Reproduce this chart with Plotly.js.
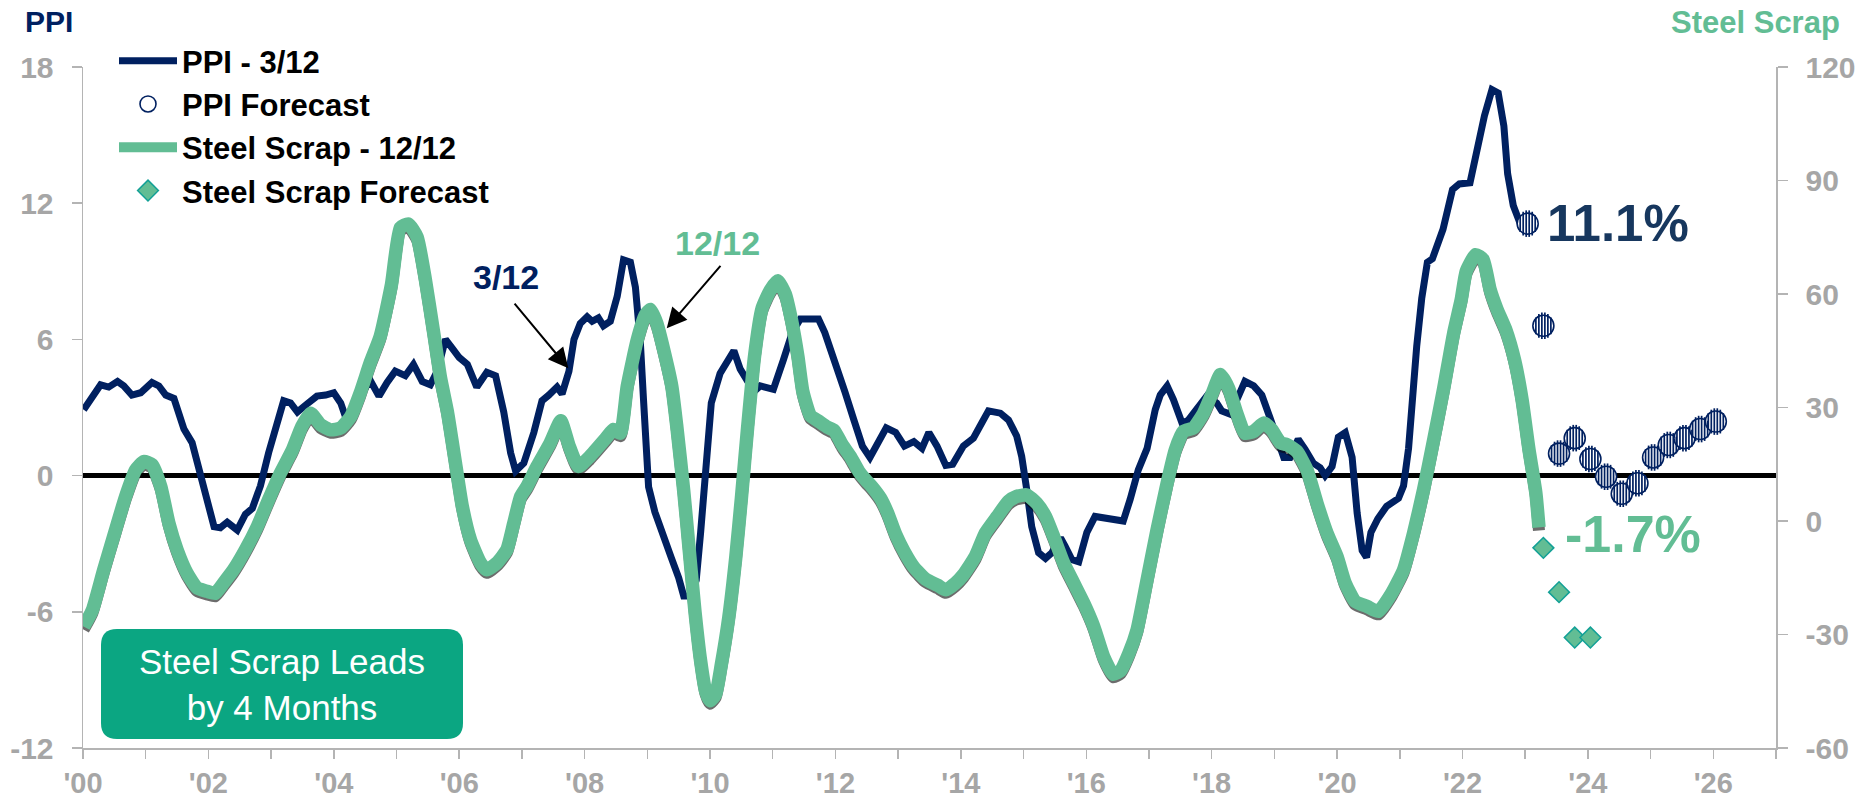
<!DOCTYPE html>
<html><head><meta charset="utf-8">
<script src="https://cdn.plot.ly/plotly-3.0.1.min.js"></script>
<style>html,body{margin:0;padding:0;background:#fff;}#chart{width:1861px;height:801px;}</style>
</head><body><div id="chart"></div>
<script>
// ---------------- DATA ----------------
const ppiDates = [2000.01,2000.12,2000.28,2000.41,2000.55,2000.65,2000.78,2000.92,2001.10,2001.21,
2001.32,2001.45,2001.61,2001.74,2001.87,2001.98,2002.09,2002.19,2002.30,2002.46,
2002.59,2002.70,2002.83,2002.96,2003.07,2003.20,2003.31,2003.42,2003.57,2003.73,
2003.87,2004.00,2004.11,2004.21,2004.32,2004.45,2004.58,2004.72,2004.85,2004.98,
2005.14,2005.27,2005.41,2005.54,2005.65,2005.78,2005.89,2006.00,2006.13,2006.28,
2006.44,2006.58,2006.71,2006.82,2006.90,2007.03,2007.19,2007.32,2007.43,2007.56,
2007.64,2007.75,2007.83,2007.93,2008.04,2008.12,2008.22,2008.30,2008.41,2008.52,
2008.62,2008.73,2008.81,2008.89,2008.94,2009.02,2009.12,2009.25,2009.38,2009.50,
2009.58,2009.70,2009.78,2009.85,2009.93,2010.02,2010.16,2010.38,2010.48,2010.59,
2010.70,2010.80,2011.01,2011.17,2011.31,2011.44,2011.58,2011.73,2011.83,2011.92,
2012.02,2012.15,2012.30,2012.43,2012.55,2012.68,2012.81,2012.96,2013.10,2013.25,
2013.38,2013.49,2013.62,2013.76,2013.87,2014.04,2014.20,2014.30,2014.44,2014.63,
2014.76,2014.89,2014.97,2015.05,2015.13,2015.24,2015.35,2015.45,2015.59,2015.66,
2015.77,2015.88,2016.01,2016.14,2016.28,2016.43,2016.59,2016.70,2016.83,2016.97,
2017.10,2017.18,2017.29,2017.39,2017.53,2017.63,2017.76,2017.92,2018.08,2018.16,
2018.30,2018.43,2018.53,2018.67,2018.80,2018.93,2019.07,2019.15,2019.25,2019.38,
2019.49,2019.62,2019.73,2019.81,2019.92,2020.02,2020.13,2020.24,2020.32,2020.40,
2020.47,2020.54,2020.65,2020.79,2020.98,2021.06,2021.14,2021.20,2021.27,2021.35,
2021.44,2021.52,2021.69,2021.84,2021.95,2022.12,2022.21,2022.35,2022.47,2022.57,
2022.66,2022.72,2022.81,2022.92];
const ppiValues = [2.9,3.3,4.0,3.9,4.15,3.95,3.55,3.65,4.1,3.95,
3.55,3.4,2.05,1.45,0.1,-1.2,-2.25,-2.3,-2.05,-2.4,
-1.7,-1.45,-0.45,1.0,2.0,3.3,3.2,2.8,3.15,3.5,
3.55,3.65,3.2,2.4,2.75,3.65,4.2,3.5,4.1,4.6,
4.4,4.9,4.15,4.0,4.6,6.0,5.6,5.2,4.9,3.9,
4.55,4.4,2.8,1.0,0.2,0.55,1.9,3.3,3.55,3.9,
3.6,4.6,6.0,6.7,7.0,6.8,6.95,6.6,6.8,7.9,
9.5,9.4,8.3,5.8,3.3,-0.5,-1.6,-2.5,-3.6,-4.5,
-5.3,-5.3,-4.6,-2.5,0.0,3.2,4.5,5.5,4.7,4.2,
3.7,3.95,3.8,5.1,6.3,6.9,6.9,6.9,6.3,5.5,
4.7,3.7,2.4,1.3,0.8,1.5,2.1,1.9,1.3,1.5,
1.2,1.9,1.3,0.45,0.5,1.3,1.65,2.15,2.85,2.75,
2.45,1.75,0.85,-0.6,-2.25,-3.4,-3.65,-3.4,-2.75,-3.1,
-3.7,-3.8,-2.5,-1.8,-1.85,-1.95,-2.0,-1.05,0.25,1.2,
2.9,3.55,3.95,3.35,2.3,2.45,2.9,3.5,3.2,2.85,
2.7,3.45,4.15,3.95,3.55,2.55,1.5,0.8,0.8,1.6,
1.15,0.55,0.35,0.0,0.4,1.7,1.9,0.8,-1.65,-3.3,
-3.6,-2.5,-1.9,-1.35,-1.0,-0.45,1.2,3.5,5.7,7.8,
9.4,9.55,10.85,12.6,12.85,12.9,14.2,15.85,17.0,16.85,
15.4,13.3,11.9,11.1];

const scrapDates = [2000.01,2000.15,2000.33,2000.52,2000.68,2000.84,2000.97,2001.10,2001.24,2001.37,
2001.50,2001.66,2001.82,2001.98,2002.11,2002.24,2002.40,2002.59,2002.78,2002.96,
2003.15,2003.34,2003.49,2003.63,2003.79,2003.95,2004.11,2004.27,2004.42,2004.58,
2004.74,2004.92,2005.06,2005.19,2005.33,2005.46,2005.59,2005.70,2005.81,2005.94,
2006.05,2006.18,2006.34,2006.44,2006.60,2006.76,2006.87,2006.98,2007.08,2007.24,
2007.45,2007.62,2007.75,2007.90,2008.08,2008.33,2008.46,2008.57,2008.68,2008.84,
2008.97,2009.05,2009.15,2009.26,2009.39,2009.47,2009.58,2009.67,2009.76,2009.85,
2009.93,2010.00,2010.09,2010.18,2010.30,2010.41,2010.50,2010.60,2010.71,2010.83,
2010.96,2011.08,2011.20,2011.30,2011.40,2011.48,2011.60,2011.73,2011.87,2011.98,
2012.11,2012.24,2012.38,2012.49,2012.58,2012.72,2012.83,2012.96,2013.10,2013.25,
2013.44,2013.63,2013.76,2013.91,2014.04,2014.23,2014.39,2014.58,2014.76,2014.89,
2015.05,2015.21,2015.35,2015.48,2015.64,2015.80,2015.96,2016.12,2016.28,2016.43,
2016.55,2016.68,2016.81,2016.97,2017.13,2017.29,2017.42,2017.55,2017.71,2017.87,
2018.01,2018.14,2018.27,2018.40,2018.53,2018.67,2018.83,2018.96,2019.10,2019.20,
2019.36,2019.52,2019.68,2019.84,2020.00,2020.13,2020.29,2020.48,2020.66,2020.87,
2021.06,2021.22,2021.38,2021.54,2021.70,2021.86,2021.98,2022.06,2022.21,2022.33,
2022.44,2022.55,2022.69,2022.83,2022.95,2023.06,2023.17,2023.22];
const scrapValues = [-27.9,-23.5,-12.9,-2.3,6.5,13.5,15.7,14.9,9.1,-0.6,
-7.6,-13.8,-17.7,-18.6,-19.1,-16.4,-12.9,-7.6,-1.45,5.6,
12.7,18.8,25,28.5,25.4,24.1,24.6,27.6,33.8,41.8,
48.8,62.5,77.5,78.5,75,63.8,50,38,29,15.3,
3.8,-5,-11.1,-12.9,-11.1,-7.6,-0.6,6.5,9.1,14.4,
20.6,26.5,20,14.4,17,21.7,24.2,23.2,35.6,47.9,
54.5,55.9,52.3,45.3,35.6,25,8,-8,-24,-37,
-45,-47.5,-45.8,-38,-25.4,-9.7,6,24.8,43.6,56.2,
61,63.5,60,53,43.6,34.2,27.9,26.4,24.8,23.9,
20.1,17,12.9,10.7,9.1,6,2.2,-3.5,-8.2,-12.2,
-15.4,-17,-18.2,-16.5,-14.2,-9.4,-3.2,1.2,5.2,6.5,
6.9,4.7,1.2,-4.1,-11.1,-16.4,-21.7,-27.9,-36,-40.5,
-39.5,-35,-28.8,-15.6,-2.3,10,18.8,23.7,24.6,28.5,
33.8,38.7,35.1,28.5,23.2,23.7,25.9,24.1,20.6,20.2,
18.4,13.5,4.7,-3.2,-9.4,-16.4,-21.3,-22.6,-23.9,-19.1,
-12.9,-3.2,8.3,21.4,35,49.7,58.5,66,70.4,69.1,
61.2,56,50.6,42.6,32.1,18.9,7.4,-1.7];

const ppiForecastDates = [2023.04,2023.29,2023.54,2023.79,2024.04,2024.29,2024.54,2024.79,2025.04,2025.29,2025.54,2025.79,2026.04];
const ppiForecastValues = [11.1,6.6,0.97,1.65,0.73,-0.05,-0.8,-0.34,0.8,1.35,1.65,2.05,2.38];
const scrapForecastDates = [2023.29,2023.54,2023.79,2024.04];
const scrapForecastValues = [-7.1,-18.8,-30.8,-30.8];

const xTickYears = [2000,2001,2002,2003,2004,2005,2006,2007,2008,2009,2010,2011,2012,2013,2014,2015,2016,2017,2018,2019,2020,2021,2022,2023,2024,2025,2026,2027];
const xTickLabels = ["'00","","'02","","'04","","'06","","'08","","'10","","'12","","'14","","'16","","'18","","'20","","'22","","'24","","'26",""];
const ppiTickValues = [-12,-6,0,6,12,18];
const ppiTickLabels = ["-12","-6","0","6","12","18"];
const scrapTickValues = [-60,-30,0,30,60,90,120];
const scrapTickLabels = ["-60","-30","0","30","60","90","120"];

// ---------------- STYLE ----------------
const W = 1861, H = 801;
const M = {l:83, r:85, t:67, b:53};
const plotW = W - M.l - M.r, plotH = H - M.t - M.b;
const xRange = [2000, 2027];
const ppiRange = [-12, 18];
const scrapRange = [-60, 120];
const pxPerYear = plotW / (xRange[1]-xRange[0]);
const scrapPerPx = (scrapRange[1]-scrapRange[0]) / plotH;

const NAVY = '#002060';
const NAVY_TXT = '#17375E';
const GREEN = '#62BD94';
const TEAL_EDGE = '#12A096';
const BOX = '#0BA682';
const GRAY = '#A6A6A6';
const AXLINE = '#B4B4B4';
const FONT = 'Liberation Sans, Arial, Helvetica, sans-serif';

const traces = [];
traces.push({x: ppiDates, y: ppiValues, type:'scatter', mode:'lines', name:'PPI - 3/12',
  line:{color:NAVY, width:7}, xaxis:'x', yaxis:'y', hoverinfo:'skip'});
traces.push({x: ppiForecastDates, y: ppiForecastValues, type:'scatter', mode:'markers', name:'PPI Forecast',
  marker:{symbol:'circle', size:21, color:'#FFFFFF', line:{color:NAVY, width:1.6}}, xaxis:'x', yaxis:'y', hoverinfo:'skip'});
traces.push({x: scrapDates, y: scrapValues, type:'scatter', mode:'lines', name:'shadow', showlegend:false,
  line:{color:'rgba(10,10,10,0.6)', width:12, shape:'spline', smoothing:0.5}, xaxis:'x', yaxis:'y2', hoverinfo:'skip'});
traces.push({x: scrapDates, y: scrapValues, type:'scatter', mode:'lines', name:'Steel Scrap - 12/12',
  line:{color:GREEN, width:13.5, shape:'spline', smoothing:0.5}, xaxis:'x', yaxis:'y3', hoverinfo:'skip'});
traces.push({x: scrapForecastDates, y: scrapForecastValues, type:'scatter', mode:'markers', name:'Steel Scrap Forecast',
  marker:{symbol:'diamond', size:16, color:GREEN, line:{color:TEAL_EDGE, width:1.5}}, xaxis:'x', yaxis:'y3', hoverinfo:'skip'});

const layout = {
  width:W, height:H, margin:M, paper_bgcolor:'#FFFFFF', plot_bgcolor:'rgba(0,0,0,0)',
  showlegend:true, hovermode:false,
  font:{family:FONT},
  legend:{x:(114-M.l)/plotW, y:(M.t+plotH-34)/plotH, xanchor:'left', yanchor:'top',
    bgcolor:'rgba(0,0,0,0)', borderwidth:0, itemwidth:58, tracegroupgap:0,
    font:{family:FONT, size:31, color:'#000000', weight:'bold'}},
  xaxis:{range:xRange, tickvals:xTickYears, ticktext:xTickLabels, ticks:'outside', ticklen:9, tickwidth:1.5,
    tickcolor:AXLINE, showline:true, linecolor:AXLINE, linewidth:1.5, showgrid:false, zeroline:false,
    tickfont:{family:FONT, size:29, color:GRAY, weight:'bold'}, ticklabelstandoff:0, fixedrange:true},
  yaxis:{range:ppiRange, tickvals:ppiTickValues, ticktext:ppiTickLabels, ticks:'outside', ticklen:10, tickwidth:1.5,
    tickcolor:AXLINE, showline:true, linecolor:AXLINE, linewidth:1.5, showgrid:false,
    zeroline:true, zerolinecolor:'#000000', zerolinewidth:4.5,
    tickfont:{family:FONT, size:30, color:GRAY, weight:'bold'}, ticklabelstandoff:12, fixedrange:true},
  yaxis2:{range:[scrapRange[0]+3*scrapPerPx, scrapRange[1]+3*scrapPerPx], overlaying:'y', visible:false, fixedrange:true},
  yaxis3:{range:scrapRange, overlaying:'y', side:'right', tickvals:scrapTickValues, ticktext:scrapTickLabels,
    ticks:'outside', ticklen:10, tickwidth:1.5, tickcolor:AXLINE, showline:true, linecolor:AXLINE, linewidth:1.5,
    showgrid:false, zeroline:false, tickfont:{family:FONT, size:30, color:GRAY, weight:'bold'}, ticklabelstandoff:12, fixedrange:true},
  shapes:[], annotations:[]
};

// striped fill of PPI forecast circles: thin vertical lines on pixel-shifted overlay axes
const stripeOffsets = [-7.5,-4.5,-1.5,1.5,4.5,7.5];
const stripeR = 9.6;
stripeOffsets.forEach((d, i) => {
  const n = i + 2;
  layout['xaxis'+n] = {range:[xRange[0]-d/pxPerYear, xRange[1]-d/pxPerYear], overlaying:'x', visible:false, fixedrange:true};
  traces.push({x: ppiForecastDates, y: ppiForecastValues, type:'scatter', mode:'markers', showlegend:false,
    xaxis:'x'+n, yaxis:'y', hoverinfo:'skip',
    marker:{symbol:'line-ns', size:2*Math.sqrt(stripeR*stripeR-d*d), line:{color:NAVY, width:1.7}}});
});

// rounded text box
const bx0=(101-M.l)/plotW, bx1=(463-M.l)/plotW, by0=(M.t+plotH-739)/plotH, by1=(M.t+plotH-629)/plotH;
const rx=16/plotW, ry=16/plotH;
layout.shapes.push({type:'path', xref:'paper', yref:'paper', fillcolor:BOX, line:{width:0},
  path:`M${bx0+rx},${by0} L${bx1-rx},${by0} Q${bx1},${by0} ${bx1},${by0+ry} L${bx1},${by1-ry} Q${bx1},${by1} ${bx1-rx},${by1} L${bx0+rx},${by1} Q${bx0},${by1} ${bx0},${by1-ry} L${bx0},${by0+ry} Q${bx0},${by0} ${bx0+rx},${by0} Z`});

const A = layout.annotations;
A.push({xref:'paper', yref:'paper', x:(bx0+bx1)/2, y:(by0+by1)/2, xanchor:'center', yanchor:'middle', showarrow:false,
  text:'Steel Scrap Leads<br>by 4 Months', font:{family:FONT, size:35, color:'#FFFFFF'}});
A.push({xref:'paper', yref:'paper', x:(49-M.l)/plotW, y:(M.t+plotH-22)/plotH, xanchor:'center', yanchor:'middle', showarrow:false,
  text:'PPI', font:{family:FONT, size:30, color:NAVY, weight:'bold'}});
A.push({xref:'paper', yref:'paper', x:(1755-M.l)/plotW, y:(M.t+plotH-23)/plotH, xanchor:'center', yanchor:'middle', showarrow:false,
  text:'Steel Scrap', font:{family:FONT, size:31, color:GREEN, weight:'bold'}});
A.push({xref:'x', yref:'y', x:2023.32, y:11.1, xanchor:'left', yanchor:'middle', showarrow:false,
  text:'11.1%', font:{family:FONT, size:51, color:NAVY_TXT, weight:'bold'}});
A.push({xref:'x', yref:'y3', x:2023.60, y:-3.4, xanchor:'left', yanchor:'middle', showarrow:false,
  text:'-1.7%', font:{family:FONT, size:52, color:GREEN, weight:'bold'}});
A.push({xref:'x', yref:'y', x:2006.75, y:8.73, xanchor:'center', yanchor:'middle', showarrow:false,
  text:'3/12', font:{family:FONT, size:34, color:NAVY, weight:'bold'}});
A.push({xref:'x', yref:'y3', x:2010.12, y:73.6, xanchor:'center', yanchor:'middle', showarrow:false,
  text:'12/12', font:{family:FONT, size:34, color:GREEN, weight:'bold'}});
A.push({xref:'x', yref:'y', x:2007.74, y:4.73, ax:-55, ay:-66, text:'', showarrow:true,
  arrowhead:2, arrowsize:2, arrowwidth:2, arrowcolor:'#000000', standoff:0});
A.push({xref:'x', yref:'y', x:2009.31, y:6.49, ax:55, ay:-64, text:'', showarrow:true,
  arrowhead:2, arrowsize:2, arrowwidth:2, arrowcolor:'#000000', standoff:0});

Plotly.newPlot('chart', traces, layout, {displayModeBar:false, staticPlot:true});
</script></body></html>
